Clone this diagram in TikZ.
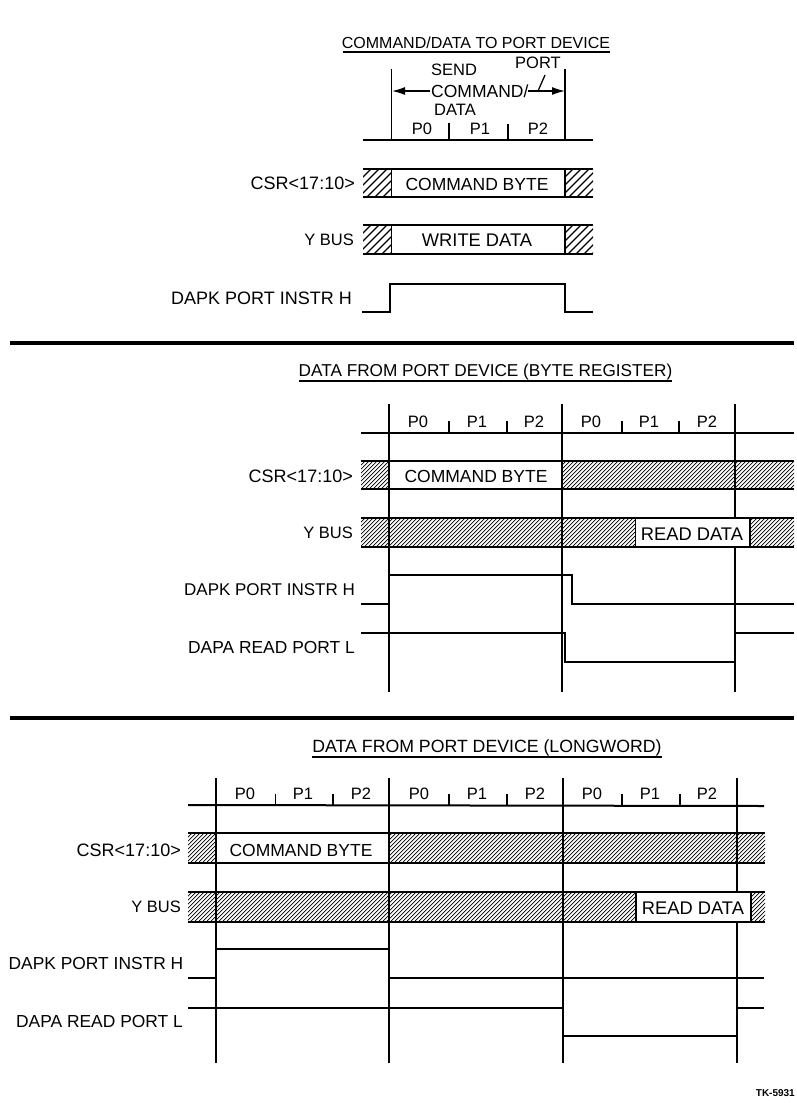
\documentclass[tikz,border=0pt]{standalone}
\usepackage{fontspec}
\usetikzlibrary{arrows.meta}
\setmainfont{Liberation Sans}
\newcommand{\hatchfill}[6]{%
  \begin{scope}
    \clip (#1,#2) rectangle (#3,#4);
    \pgfmathsetmacro{\hh}{#4-#2}
    \pgfmathsetmacro{\xa}{#1-\hh}
    \pgfmathsetmacro{\xb}{#1-\hh+#5}
    \foreach \hx in {\xa,\xb,...,#3} {
      \draw[line width=#6] (\hx,#4) -- ++(\hh,-\hh);
    }
  \end{scope}}
\tikzset{
  x=1pt,y=-1pt,
  lbl/.style={inner sep=0pt,font=\fontsize{16.5}{19}\selectfont},
  mlbl/.style={inner sep=0pt,font=\fontsize{17.5}{20}\selectfont},
  wlbl/.style={inner sep=0pt,font=\fontsize{18.3}{21}\selectfont},
  rlbl/.style={lbl,anchor=east},
  clbl/.style={inner sep=0pt,anchor=east,font=\fontsize{18}{21}\selectfont},
  dlbl/.style={inner sep=0pt,anchor=east,font=\fontsize{17.4}{20}\selectfont},
  busedge/.style={line width=2pt},
  sig/.style={line width=2pt,line join=miter},
  vmark/.style={line width=1.4pt},
  hrule/.style={line width=4pt},
  tickm/.style={line width=1.3pt},
  ul/.style={line width=1.3pt},
  headtip/.style={-{Latex[length=13pt,width=8pt]}}
}
\begin{document}
\begin{tikzpicture}
\useasboundingbox (0,0) rectangle (796,1103);
\fill[white] (0,0) rectangle (796,1103);

% ---------- panel 1
\node[inner sep=0pt,font=\fontsize{16}{19}\selectfont] (t1) at (476,43) {COMMAND/DATA TO PORT DEVICE};
\draw[ul] (343,52) -- (610,52);
\hatchfill{363}{169}{391}{197}{8}{1.3pt}
\hatchfill{565}{169}{593}{197}{8}{1.3pt}
\hatchfill{363}{225}{391}{254}{8}{1.3pt}
\hatchfill{565}{225}{593}{254}{8}{1.3pt}
\draw[vmark] (391.5,69) -- (391.5,140) (565,69) -- (565,140);
\draw[busedge] (363,140) -- (593,140);
\draw[tickm] (449,123) -- (449,140) (508,124) -- (508,140);
\draw[busedge] (363,169) -- (593,169) (363,197) -- (593,197);
\draw[busedge] (363,225) -- (593,225) (363,254) -- (593,254);
\draw[vmark] (391.5,169) -- (391.5,197) (565,169) -- (565,197) (391.5,225) -- (391.5,254) (565,225) -- (565,254);
\node[mlbl,anchor=west] (send1) at (431,91) {COMMAND/};
\node[lbl] (send0) at (454,70) {SEND};
\node[lbl] (send2) at (455,110) {DATA};
\node[lbl] (port) at (538,63) {PORT};
\draw[tickm] (545,75) -- (538,91);
\draw[tickm,headtip] (430,91) -- (392,91);
\draw[tickm,headtip] (528,91) -- (565,91);
\node[lbl] at (422,129) {P0};
\node[lbl] at (480,129) {P1};
\node[lbl] at (538,129) {P2};
\node[clbl] at (355,183) {CSR<17:10>};
\node[rlbl] at (354,240) {Y BUS};
\node[inner sep=0pt,anchor=east,font=\fontsize{18}{21}\selectfont] at (352,298) {DAPK PORT INSTR H};
\node[mlbl] at (477,184) {COMMAND BYTE};
\node[wlbl] at (477,240) {WRITE DATA};
\draw[sig] (362,312) -- (390,312) -- (390,284) -- (565,284) -- (565,312) -- (593,312);

\draw[hrule] (10,343) -- (794,343);

% ---------- panel 2
\node[inner sep=0pt,font=\fontsize{17.2}{20}\selectfont] (t2) at (485.5,372) {DATA FROM PORT DEVICE (BYTE REGISTER)};
\draw[ul] (299,381) -- (672,381);
\hatchfill{361}{461}{389}{489}{4}{0.7pt}
\hatchfill{562}{461}{794}{489}{4}{0.7pt}
\hatchfill{361}{518}{794}{547}{4}{0.7pt}
\fill[white] (635.5,518) rectangle (750,547);
\draw[vmark] (389,404) -- (389,692) (562,404) -- (562,692) (735,404) -- (735,518) (735,547) -- (735,692);
\draw[busedge] (361,433) -- (794,433);
\draw[tickm] (449,421) -- (449,433) (507,421) -- (507,433) (622,421) -- (622,433) (679,421) -- (679,433);
\draw[busedge] (361,461) -- (794,461) (361,489) -- (794,489);
\draw[busedge] (361,518) -- (794,518) (361,547) -- (794,547);
\draw[tickm] (635.5,518) -- (635.5,547) (750,518) -- (750,547);
\foreach \px/\pt in {418/P0,477/P1,534/P2,591/P0,649/P1,707/P2} \node[lbl] at (\px,422) {\pt};
\node[clbl] at (353,476) {CSR<17:10>};
\node[rlbl] at (353,533) {Y BUS};
\node[inner sep=0pt,anchor=east,font=\fontsize{17}{20}\selectfont] at (355,590) {DAPK PORT INSTR H};
\node[dlbl] at (355,648) {DAPA READ PORT L};
\node[mlbl] at (476,476) {COMMAND BYTE};
\node[wlbl] at (692,534) {READ DATA};
\draw[sig] (361,604) -- (389,604) -- (389,575) -- (572,575) -- (572,604) -- (794,604);
\draw[sig] (361,633) -- (565,633) -- (565,662) -- (735,662) -- (735,633) -- (794,633);

\draw[hrule] (10,718) -- (794,718);

% ---------- panel 3
\node[inner sep=0pt,font=\fontsize{17.7}{20}\selectfont] (t3) at (487,748) {DATA FROM PORT DEVICE (LONGWORD)};
\draw[ul] (312,757) -- (662,757);
\hatchfill{188}{833}{216}{863}{4}{0.7pt}
\hatchfill{388}{833}{765}{863}{4}{0.7pt}
\hatchfill{188}{892}{765}{922}{4}{0.7pt}
\fill[white] (636,892) rectangle (751,922);
\draw[vmark] (216,778) -- (216,1063) (389,778) -- (389,1063) (563,778) -- (563,1063) (737,778) -- (737,892) (737,922) -- (737,1063);
\draw[busedge] (188,805) -- (764,806);
\draw[tickm] (275.5,794) -- (275.5,805) (333,794) -- (333,805) (449,794) -- (449,805) (507,794) -- (507,805) (622,794) -- (622,805) (680,794) -- (680,805);
\draw[busedge] (188,833) -- (765,833) (188,863) -- (765,863);
\draw[busedge] (188,892) -- (765,892) (188,922) -- (765,922);
\draw[tickm] (636,892) -- (636,922) (751,892) -- (751,922);
\foreach \px/\pt in {245/P0,303/P1,361/P2,419/P0,477/P1,535/P2,592/P0,650/P1,707/P2} \node[lbl] at (\px,794) {\pt};
\node[clbl] at (181,850) {CSR<17:10>};
\node[rlbl] at (181,907) {Y BUS};
\node[dlbl] at (183.5,963) {DAPK PORT INSTR H};
\node[dlbl] at (183,1021) {DAPA READ PORT L};
\node[mlbl] at (301,850) {COMMAND BYTE};
\node[wlbl] at (693,908) {READ DATA};
\draw[sig] (188,978) -- (216,978) -- (216,949) -- (389,949) -- (389,978) -- (764,978);
\draw[sig] (188,1008) -- (563,1008) -- (563,1036) -- (737,1036) -- (737,1008) -- (764,1008);
\node[inner sep=0pt,anchor=east,font=\fontsize{10}{12}\selectfont\bfseries] at (795,1093) {TK-5931};
\end{tikzpicture}
\end{document}
